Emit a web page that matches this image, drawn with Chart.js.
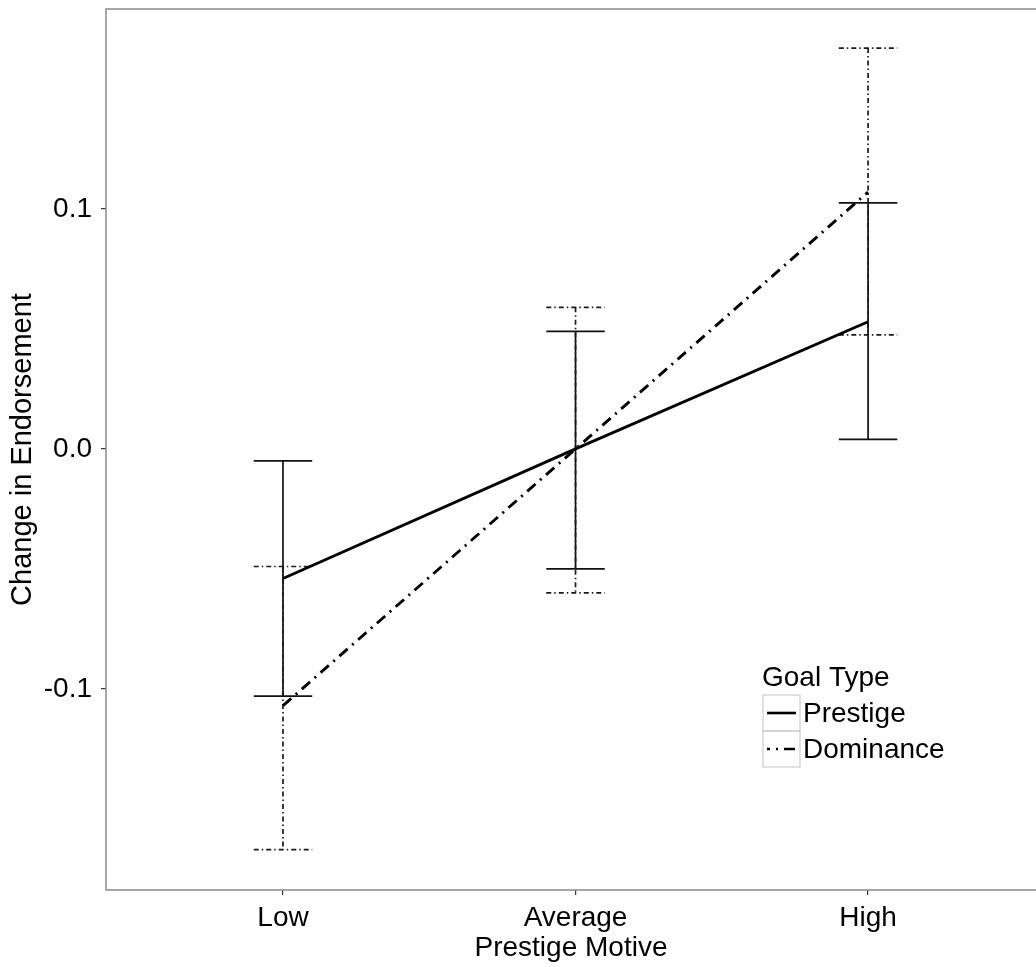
<!DOCTYPE html>
<html>
<head>
<meta charset="utf-8">
<script src="https://cdn.jsdelivr.net/npm/chart.js@4.4.1/dist/chart.umd.min.js"></script>
<style>
  html, body { margin: 0; padding: 0; background: #ffffff; }
  #wrap { width: 1036px; height: 967px; position: relative; }
</style>
</head>
<body>
<div id="wrap"><canvas id="c" width="1036" height="967"></canvas></div>
<script>
// ---- data ----
const categories = ['Low', 'Average', 'High'];
const categoryPositions = [1, 2, 3];
const prestigeMean = [-0.054, 0.000, 0.053];
const prestigeLow = [-0.103, -0.050, 0.004];
const prestigeHigh = [-0.005, 0.049, 0.1025];
const dominanceMean = [-0.107, 0.000, 0.107];
const dominanceLow = [-0.167, -0.060, 0.0475];
const dominanceHigh = [-0.049, 0.059, 0.167];
const yTickValues = [-0.1, 0.0, 0.1];
const yTickLabels = ['-0.1', '0.0', '0.1'];
const seriesNames = ['Prestige', 'Dominance'];
const legendTitle = 'Goal Type';
const xTitle = 'Prestige Motive';
const yTitle = 'Change in Endorsement';

const FONT = "'Liberation Sans', Arial, sans-serif";
const MAIN_DASH = [11, 6, 2, 6];
const BAR_DASH = [5, 3, 1.5, 3];

const toPoints = (arr) => arr.map((v, i) => ({ x: categoryPositions[i], y: v }));

const errorBarPlugin = {
  id: 'errorBars',
  beforeDatasetsDraw(chart) {
    const ctx = chart.ctx;
    const xs = chart.scales.x, ys = chart.scales.y;
    const series = [
      { lo: prestigeLow, hi: prestigeHigh, dash: [], color: '#111111' },
      { lo: dominanceLow, hi: dominanceHigh, dash: BAR_DASH, color: '#1a1a1a' }
    ];
    ctx.save();
    series.forEach(s => {
      ctx.strokeStyle = s.color;
      ctx.lineWidth = 1.7;
      ctx.setLineDash(s.dash);
      categoryPositions.forEach((cx, i) => {
        const px = xs.getPixelForValue(cx);
        const pl = xs.getPixelForValue(cx - 0.1);
        const pr = xs.getPixelForValue(cx + 0.1);
        const yl = ys.getPixelForValue(s.lo[i]);
        const yh = ys.getPixelForValue(s.hi[i]);
        ctx.beginPath();
        ctx.moveTo(px, yh); ctx.lineTo(px, yl);
        ctx.stroke();
        ctx.beginPath();
        ctx.moveTo(pl, yh); ctx.lineTo(pr, yh);
        ctx.stroke();
        ctx.beginPath();
        ctx.moveTo(pl, yl); ctx.lineTo(pr, yl);
        ctx.stroke();
      });
    });
    ctx.restore();
  },
  afterDraw(chart) {
    const ctx = chart.ctx;
    const a = chart.chartArea;
    ctx.save();
    // panel border
    ctx.strokeStyle = '#8a8a8a';
    ctx.lineWidth = 1.5;
    ctx.setLineDash([]);
    ctx.beginPath();
    ctx.moveTo(a.right + 2, a.top);
    ctx.lineTo(a.left, a.top);
    ctx.lineTo(a.left, a.bottom);
    ctx.lineTo(a.right + 2, a.bottom);
    ctx.stroke();

    // legend
    const lx = 763, ly = 695, kw = 37, kh = 36;
    ctx.fillStyle = '#000';
    ctx.font = '28px ' + FONT;
    ctx.textBaseline = 'middle';
    ctx.textAlign = 'left';
    ctx.fillText(legendTitle, 762, 678);
    ctx.strokeStyle = '#cccccc';
    ctx.lineWidth = 1.2;
    ctx.strokeRect(lx, ly, kw, kh);
    ctx.strokeRect(lx, ly + kh, kw, kh);
    ctx.strokeStyle = '#000';
    ctx.lineWidth = 2.6;
    ctx.beginPath();
    ctx.moveTo(lx + 4, ly + kh / 2); ctx.lineTo(lx + kw - 4, ly + kh / 2);
    ctx.stroke();
    ctx.setLineDash(MAIN_DASH);
    ctx.lineDashOffset = 8;
    ctx.beginPath();
    ctx.moveTo(lx + 4, ly + kh * 1.5); ctx.lineTo(lx + kw - 4, ly + kh * 1.5);
    ctx.stroke();
    ctx.setLineDash([]);
    ctx.fillStyle = '#000';
    ctx.fillText(seriesNames[0], 803, ly + kh / 2 + 1);
    ctx.fillText(seriesNames[1], 803, ly + kh * 1.5 + 1);
    ctx.restore();
  }
};

const chart = new Chart(document.getElementById('c'), {
  type: 'line',
  data: {
    datasets: [
      {
        label: seriesNames[0],
        data: toPoints(prestigeMean),
        borderColor: '#000000',
        borderWidth: 2.9,
        pointRadius: 0,
        tension: 0,
        fill: false
      },
      {
        label: seriesNames[1],
        data: toPoints(dominanceMean),
        borderColor: '#000000',
        borderWidth: 2.9,
        borderDash: MAIN_DASH,
        pointRadius: 0,
        tension: 0,
        fill: false
      }
    ]
  },
  options: {
    responsive: false,
    animation: false,
    devicePixelRatio: 1,
    layout: { padding: { top: 9, right: 0, left: 0, bottom: 0 } },
    plugins: {
      legend: { display: false },
      tooltip: { enabled: false }
    },
    scales: {
      x: {
        type: 'linear',
        min: 0.395,
        max: 3.574,
        afterFit(scale) { scale.height = 77; scale.paddingLeft = 0; scale.paddingRight = 0; },
        afterBuildTicks(scale) {
          scale.ticks = categoryPositions.map(v => ({ value: v }));
        },
        ticks: {
          callback: (v) => categories[categoryPositions.indexOf(v)],
          color: '#000',
          font: { family: FONT, size: 28 },
          padding: 6,
          maxRotation: 0,
          autoSkip: false
        },
        grid: { drawOnChartArea: false, drawTicks: true, tickLength: 5, color: '#333333', lineWidth: 1.2 },
        border: { display: false },
        title: {
          display: true,
          text: xTitle,
          color: '#000',
          font: { family: FONT, size: 28 },
          padding: { top: 0, bottom: 2 }
        }
      },
      y: {
        type: 'linear',
        min: -0.1838,
        max: 0.1833,
        afterFit(scale) { scale.width = 106; scale.paddingTop = 0; scale.paddingBottom = 0; },
        afterBuildTicks(scale) {
          scale.ticks = yTickValues.map(v => ({ value: v }));
        },
        ticks: {
          callback: (v) => yTickLabels[yTickValues.indexOf(Math.round(v * 10) / 10)],
          color: '#000',
          font: { family: FONT, size: 28 },
          padding: 9,
          autoSkip: false
        },
        grid: { drawOnChartArea: false, drawTicks: true, tickLength: 5, color: '#333333', lineWidth: 1.2 },
        border: { display: false },
        title: {
          display: true,
          text: yTitle,
          color: '#000',
          font: { family: FONT, size: 29 },
          padding: { top: 6, bottom: 0 }
        }
      }
    }
  },
  plugins: [errorBarPlugin]
});
</script>
</body>
</html>
